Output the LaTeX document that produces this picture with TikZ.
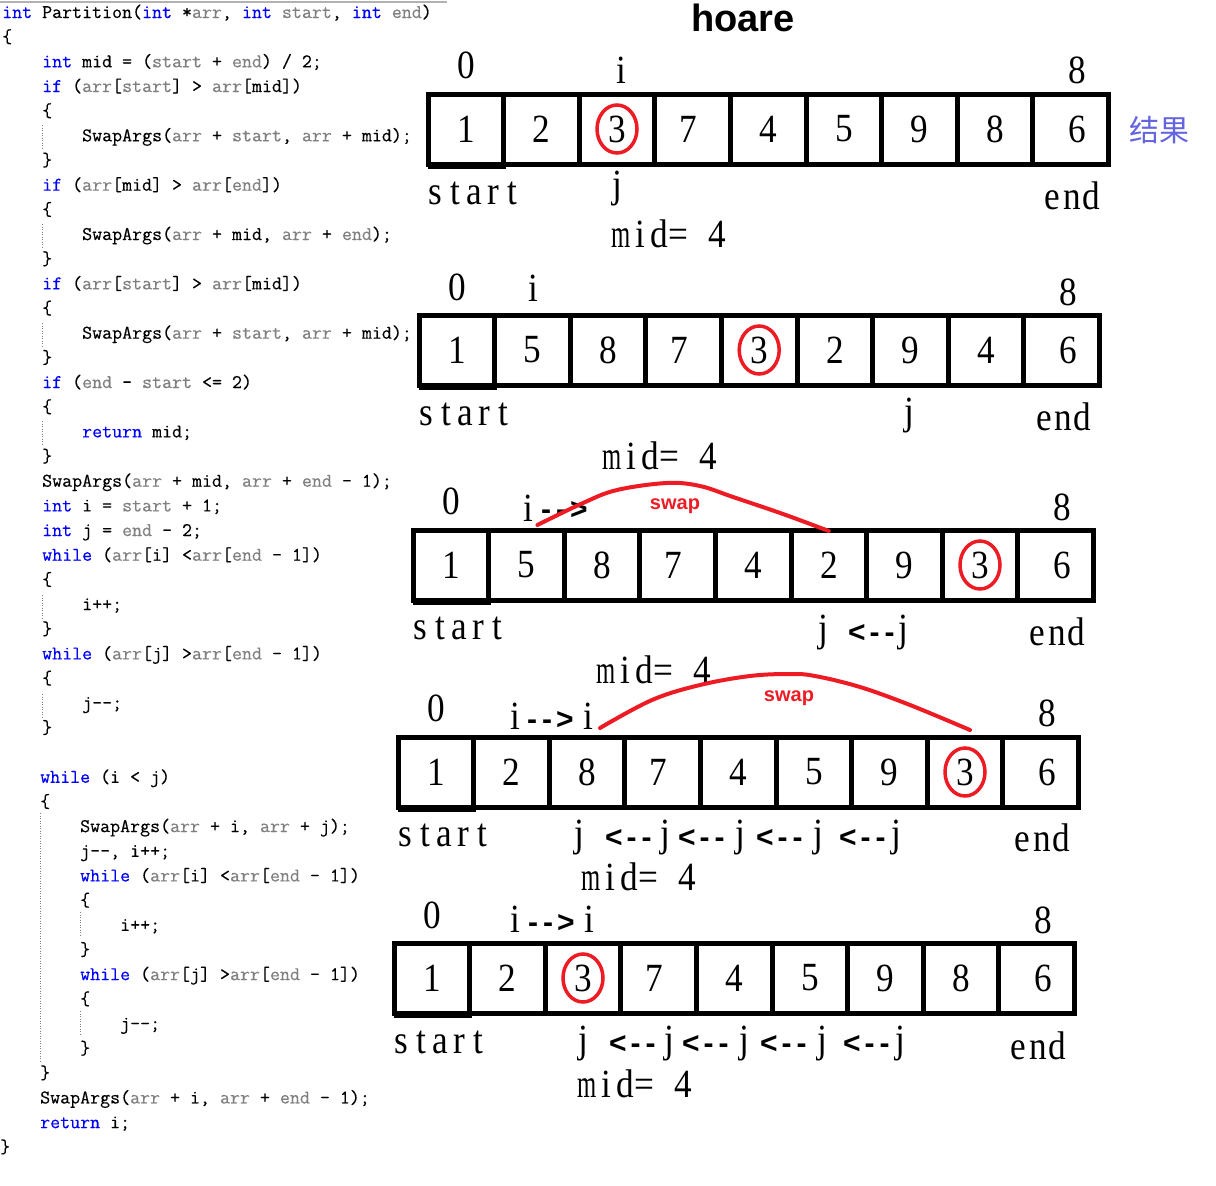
\documentclass[tikz,border=0pt]{standalone}
\usepackage{fontspec}
\usepackage{graphicx}
\setmainfont{Liberation Serif}
\newfontfamily\sansf{Liberation Sans}
\newfontfamily\cjkf{Noto Sans CJK SC}
\newfontfamily\codef{Latin Modern Mono}[FakeBold=0.35]
\usetikzlibrary{calc}
\definecolor{kw}{RGB}{0,0,255}
\definecolor{pa}{RGB}{128,128,128}
\definecolor{rd}{RGB}{237,28,36}
\definecolor{res}{RGB}{100,100,225}
\newlength\cw \setlength\cw{19.2pt}
\newcommand\cb[1]{\makebox[\cw]{\scalebox{0.88}[1]{#1}}}
\newcommand\cellv[1]{\ifnum#1=6 \hspace*{14pt}\fi\cb{#1}\ifnum#1=7 \hspace*{8pt}\fi}
\newcommand\wstart{\cb{s}\cb{t}\cb{a}\cb{r}\cb{t}}
\newcommand\wend{\cb{e}\cb{n}\cb{d}}
\newcommand\wmid{\cb{\scalebox{0.7}[1]{m}}\cb{i}\cb{d}\cb{=}\cb{}\cb{4}}
\newcommand\kw[1]{\textcolor{kw}{#1}}
\newcommand\pa[1]{\textcolor{pa}{#1}}
\newcommand\lblfont{\fontsize{40}{40}\selectfont}
\newcommand\larr{<\kern4pt-\kern5pt-}
\newcommand\rarr{-\kern5pt-\kern4pt>}
\tikzset{
  cell/.style={draw, line width=5pt, minimum width=75.6pt, minimum height=70pt, inner sep=0pt, outer sep=0pt, font=\lblfont},
  lbl/.style={inner sep=0pt, font=\lblfont, anchor=base west},
  lblc/.style={lbl, anchor=base},
  lble/.style={lbl, anchor=base east},
  arw/.style={inner sep=0pt, font=\sansf\bfseries\fontsize{30}{30}\selectfont, anchor=base west},
  swp/.style={inner sep=0pt, text=rd, font=\sansf\bfseries\fontsize{20}{20}\selectfont},
  codeln/.style={inner sep=0pt, anchor=base west, font=\codef\fontsize{19.4}{19.4}\selectfont},
  guide/.style={draw=gray, line width=1pt, dash pattern=on 1pt off 1.5pt},
  redring/.style={draw=rd, line width=3.5pt},
  swaparc/.style={draw=rd, line width=4pt, line cap=round},
  resl/.style={inner sep=0pt, text=res, font=\cjkf\fontsize{30}{30}\selectfont},
}
\newcommand\drawarr[4]{%
  \foreach \v [count=\k] in {#4} {\node[cell] (#1c\k) at ({#2+(\k-0.5)*75.6}, {#3+35}) {\cellv{\v}};}
  \draw[line width=5pt] ($(#1c1.south west)+(0,2)$) -- ($(#1c1.south east)+(2,2)$);
}
\newcommand\cl[3]{\node[codeln] (cl#1) at (#2, {18+#1*24.67}) {#3};}
\begin{document}
\begin{tikzpicture}[x=1pt,y=-1pt]
\useasboundingbox (0,0) rectangle (1216,1186);
\fill[white] (0,0) rectangle (1216,1186);
% top rule of the code panel
\draw[gray!60, line width=1.5pt] (0,2) -- (447,2);
% code
\cl{0}{2}{\kw{int} Partition(\kw{int} *\pa{arr}, \kw{int} \pa{start}, \kw{int} \pa{end})}
\cl{1}{2}{\{}
\cl{2}{42}{\kw{int} mid = (\pa{start} + \pa{end}) / 2;}
\cl{3}{42}{\kw{if} (\pa{arr}[\pa{start}] > \pa{arr}[mid])}
\cl{4}{42}{\{}
\cl{5}{82}{SwapArgs(\pa{arr} + \pa{start}, \pa{arr} + mid);}
\cl{6}{42}{\}}
\cl{7}{42}{\kw{if} (\pa{arr}[mid] > \pa{arr}[\pa{end}])}
\cl{8}{42}{\{}
\cl{9}{82}{SwapArgs(\pa{arr} + mid, \pa{arr} + \pa{end});}
\cl{10}{42}{\}}
\cl{11}{42}{\kw{if} (\pa{arr}[\pa{start}] > \pa{arr}[mid])}
\cl{12}{42}{\{}
\cl{13}{82}{SwapArgs(\pa{arr} + \pa{start}, \pa{arr} + mid);}
\cl{14}{42}{\}}
\cl{15}{42}{\kw{if} (\pa{end} - \pa{start} <= 2)}
\cl{16}{42}{\{}
\cl{17}{82}{\kw{return} mid;}
\cl{18}{42}{\}}
\cl{19}{42}{SwapArgs(\pa{arr} + mid, \pa{arr} + \pa{end} - 1);}
\cl{20}{42}{\kw{int} i = \pa{start} + 1;}
\cl{21}{42}{\kw{int} j = \pa{end} - 2;}
\cl{22}{42}{\kw{while} (\pa{arr}[i] <\pa{arr}[\pa{end} - 1])}
\cl{23}{42}{\{}
\cl{24}{82}{i++;}
\cl{25}{42}{\}}
\cl{26}{42}{\kw{while} (\pa{arr}[j] >\pa{arr}[\pa{end} - 1])}
\cl{27}{42}{\{}
\cl{28}{82}{j-{}-;}
\cl{29}{42}{\}}
\cl{31}{40}{\kw{while} (i < j)}
\cl{32}{40}{\{}
\cl{33}{80}{SwapArgs(\pa{arr} + i, \pa{arr} + j);}
\cl{34}{80}{j-{}-, i++;}
\cl{35}{80}{\kw{while} (\pa{arr}[i] <\pa{arr}[\pa{end} - 1])}
\cl{36}{80}{\{}
\cl{37}{120}{i++;}
\cl{38}{80}{\}}
\cl{39}{80}{\kw{while} (\pa{arr}[j] >\pa{arr}[\pa{end} - 1])}
\cl{40}{80}{\{}
\cl{41}{120}{j-{}-;}
\cl{42}{80}{\}}
\cl{43}{40}{\}}
\cl{44}{40}{SwapArgs(\pa{arr} + i, \pa{arr} + \pa{end} - 1);}
\cl{45}{40}{\kw{return} i;}
\cl{46}{0}{\}}
% indent guides
\draw[guide] (42,125) -- (42,150);
\draw[guide] (42,224) -- (42,249);
\draw[guide] (42,323) -- (42,348);
\draw[guide] (42,421) -- (42,446);
\draw[guide] (42,595) -- (42,620);
\draw[guide] (42,694) -- (42,719);
\draw[guide] (40,813) -- (40,1062);
\draw[guide] (80,912) -- (80,937);
\draw[guide] (80,1011) -- (80,1036);
% title
\node[inner sep=0pt, font=\sansf\bfseries\fontsize{38}{38}\selectfont] (title) at (743,18) {hoare};
% arrays
\drawarr{a}{428}{94}{1,2,3,7,4,5,9,8,6}
\drawarr{b}{419}{315}{1,5,8,7,3,2,9,4,6}
\drawarr{c}{413}{530}{1,5,8,7,4,2,9,3,6}
\drawarr{d}{398}{737}{1,2,8,7,4,5,9,3,6}
\drawarr{e}{394}{943}{1,2,3,7,4,5,9,8,6}
\draw[redring] (ac3) ellipse [x radius=20pt, y radius=24pt];
\draw[redring] (bc5) ellipse [x radius=20pt, y radius=24pt];
\draw[redring] (cc8) ellipse [x radius=20pt, y radius=24pt];
\draw[redring] (dc8) ellipse [x radius=20pt, y radius=24pt];
\draw[redring] (ec3) ellipse [x radius=20pt, y radius=24pt];
% array 1 labels
\node[lblc] (a0) at (466,78.5) {\cb{0}};
\node[lblc] (ai) at (621,83) {\cb{i}};
\node[lblc] (a8) at (1077,83.5) {\cb{8}};
\node[lbl] (ast) at (426,204) {\wstart};
\node[lblc] (aj) at (617,197) {\cb{j}};
\node[lble] (aen) at (1101,209) {\wend};
\node[lbl] (amid) at (611,247.5) {\wmid};
\node[resl] (ares) at (1159,130) {结果};
% array 2 labels
\node[lblc] (b0) at (457,300) {\cb{0}};
\node[lblc] (bi) at (533,301) {\cb{i}};
\node[lblc] (b8) at (1068,305) {\cb{8}};
\node[lbl] (bst) at (417,425) {\wstart};
\node[lblc] (bj) at (909,424) {\cb{j}};
\node[lble] (ben) at (1092,430) {\wend};
\node[lbl] (bmid) at (602,469) {\wmid};
% array 3 labels
\node[lblc] (c0) at (451,514) {\cb{0}};
\node[lblc] (ci) at (528,521) {\cb{i}};
\node[arw] (cr1) at (541,519) {\rarr};
\node[lblc] (c8) at (1062,520) {\cb{8}};
\node[lbl] (cst) at (411,639) {\wstart};
\node[lblc] (cj1) at (823,641) {\cb{j}};
\node[arw] (cl1) at (848,642) {\larr};
\node[lblc] (cj2) at (903,641) {\cb{j}};
\node[lble] (cen) at (1086,645) {\wend};
\node[lbl] (cmid) at (596,683) {\wmid};
% array 4 labels
\node[lblc] (d0) at (436,721) {\cb{0}};
\node[lblc] (di1) at (515,729) {\cb{i}};
\node[arw] (dr1) at (527,729) {\rarr};
\node[lblc] (di2) at (588,729) {\cb{i}};
\node[lblc] (d8) at (1047,726) {\cb{8}};
\node[lbl] (dst) at (396,846) {\wstart};
\node[lblc] (dj1) at (579,846) {\cb{j}};
\node[arw] (dl1) at (605,847) {\larr};
\node[lblc] (dj2) at (665,846) {\cb{j}};
\node[arw] (dl2) at (678,847) {\larr};
\node[lblc] (dj3) at (740,846) {\cb{j}};
\node[arw] (dl3) at (756,847) {\larr};
\node[lblc] (dj4) at (818,846) {\cb{j}};
\node[arw] (dl4) at (839,847) {\larr};
\node[lblc] (dj5) at (896,846) {\cb{j}};
\node[lble] (den) at (1071,851) {\wend};
\node[lbl] (dmid) at (581,890) {\wmid};
% array 5 labels
\node[lblc] (e0) at (432,928) {\cb{0}};
\node[lblc] (ei1) at (515,932) {\cb{i}};
\node[arw] (er1) at (528,932) {\rarr};
\node[lblc] (ei2) at (589,932) {\cb{i}};
\node[lblc] (e8) at (1043,933) {\cb{8}};
\node[lbl] (est) at (392,1053) {\wstart};
\node[lblc] (ej1) at (583,1052) {\cb{j}};
\node[arw] (el1) at (609,1053) {\larr};
\node[lblc] (ej2) at (669,1052) {\cb{j}};
\node[arw] (el2) at (682,1053) {\larr};
\node[lblc] (ej3) at (744,1052) {\cb{j}};
\node[arw] (el3) at (760,1053) {\larr};
\node[lblc] (ej4) at (822,1052) {\cb{j}};
\node[arw] (el4) at (843,1053) {\larr};
\node[lblc] (ej5) at (900,1052) {\cb{j}};
\node[lble] (een) at (1067,1059) {\wend};
\node[lbl] (emid) at (577,1097) {\wmid};
% swap arcs
\coordinate (s3a) at ($(cc2.north)+(11,-5)$);
\coordinate (s3b) at ($(cc6.north)+(0,1)$);
\draw[swaparc] plot[smooth, tension=0.6] coordinates {(s3a) (583,503) (617,490) (667,483) (700,486) (733,497) (783,514) (s3b)};
\node[swp] (sw3) at (675,506) {swap};
\coordinate (s4a) at ($(dc3.north)+(13,-9)$);
\coordinate (s4b) at ($(dc8.north)+(5,-7)$);
\draw[swaparc] plot[smooth, tension=0.6] coordinates {(s4a) (652,700) (700,685) (750,676) (790,674) (815,676) (860,687) (910,705) (s4b)};
\node[swp] (sw4) at (789,698) {swap};
\end{tikzpicture}
\end{document}
